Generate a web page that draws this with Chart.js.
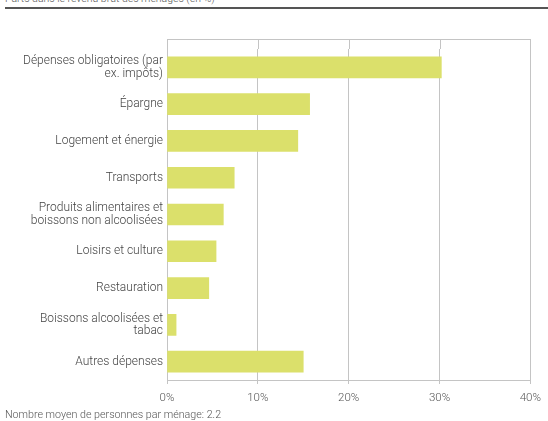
<!DOCTYPE html>
<html>
<head>
<meta charset="utf-8">
<script src="https://cdn.jsdelivr.net/npm/chart.js@4"></script>
<style>
body { margin: 0; background: #fff; font-family: Roboto, sans-serif; }
#box { position: relative; width: 548px; height: 421px; overflow: hidden; }
#titre { position: absolute; left: 5px; top: -8px; font-size: 10.5px; font-weight: 300; color: #555; white-space: nowrap; }
#trait { position: absolute; left: 5px; right: 0; top: 7px; height: 2px; background: #555; }
#note { position: absolute; left: 5px; top: 408px; font-size: 10.7px; font-weight: 300; color: #555; white-space: nowrap; }
canvas { position: absolute; left: 0; top: 0; }
</style>
</head>
<body>
<div id="box">
	<div id="titre">Parts dans le revenu brut des ménages (en %)</div>
	<div id="trait"></div>
	<canvas id="chart_depenses" width="548" height="421"></canvas>
	<div id="note">Nombre moyen de personnes par ménage: 2.2</div>
</div>
<script>
var categories = [
	["Dépenses obligatoires (par", "ex. impôts)"],
	"Épargne",
	"Logement et énergie",
	"Transports",
	["Produits alimentaires et", "boissons non alcoolisées"],
	"Loisirs et culture",
	"Restauration",
	["Boissons alcoolisées et", "tabac"],
	"Autres dépenses"
];
var parts = [30.2, 15.7, 14.4, 7.4, 6.2, 5.4, 4.6, 1.0, 15.0];
var ticks_x = [0, 10, 20, 30, 40];

var gris = "#c4c4c4";

/* prolonge la grille au dessus de la zone des barres */
var grilleHaut = {
	id: "grilleHaut",
	afterDraw: function(chart){
		var ctx = chart.ctx;
		var x = chart.scales.x;
		var top = 39;
		ctx.save();
		ctx.strokeStyle = gris;
		ctx.lineWidth = 1;
		ctx.beginPath();
		ticks_x.forEach(function(t){
			var px = Math.round(x.getPixelForValue(t)) + 0.5;
			ctx.moveTo(px, top);
			ctx.lineTo(px, chart.chartArea.top);
		});
		ctx.moveTo(x.getPixelForValue(0), top + 0.5);
		ctx.lineTo(x.getPixelForValue(40), top + 0.5);
		ctx.stroke();
		ctx.restore();
	}
};

var ctx = document.getElementById("chart_depenses").getContext("2d");
var myChart = new Chart(ctx, {
	type: "bar",
	data: {
		labels: categories,
		datasets: [{
			data: parts,
			backgroundColor: "#dbe06b",
			barThickness: 21
		}]
	},
	options: {
		indexAxis: "y",
		responsive: false,
		animation: false,
		layout: { padding: { top: 49, right: 17, left: 0, bottom: 0 } },
		plugins: { legend: { display: false }, tooltip: { enabled: false } },
		scales: {
			x: {
				min: 0,
				max: 40,
				afterFit: function(s){ s.height = 41; },
				afterBuildTicks: function(s){ s.ticks = ticks_x.map(function(v){ return { value: v }; }); },
				grid: { color: gris, lineWidth: 1, tickLength: 4 },
				border: { color: gris },
				ticks: {
					padding: 7,
					color: "#555",
					font: { family: "Roboto", size: 11.5, weight: "300" },
					callback: function(v){ return v + "%"; }
				}
			},
			y: {
				afterFit: function(s){ s.width = 167; },
				grid: { display: false, drawTicks: false, tickLength: 0 },
				border: { color: gris },
				ticks: {
					padding: 4,
					color: "#444",
					font: { family: "Roboto", size: 12, weight: "300", lineHeight: 1.02 }
				}
			}
		}
	},
	plugins: [grilleHaut]
});
</script>
</body>
</html>
